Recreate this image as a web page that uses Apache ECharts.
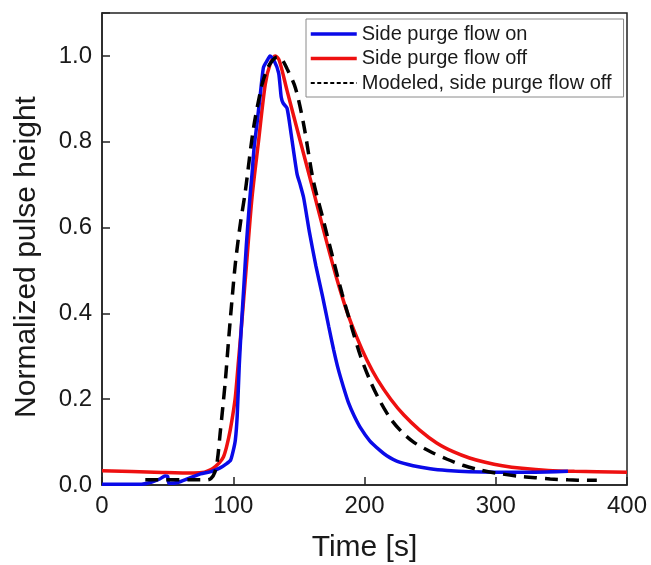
<!DOCTYPE html>
<html>
<head>
<meta charset="utf-8">
<script src="https://cdn.jsdelivr.net/npm/echarts@6/dist/echarts.min.js"></script>
<style>
html,body{margin:0;padding:0;background:#fff;}
#chart{width:651px;height:565px;}
</style>
</head>
<body>
<div id="chart"></div>
<script>
// ---- Data ----
const seriesNames = ['Side purge flow on', 'Side purge flow off', 'Modeled, side purge flow off'];
const xTicks = [0, 100, 200, 300, 400];
const yTicks = [0.0, 0.2, 0.4, 0.6, 0.8, 1.0];

const blueT = [0, 30, 38, 44, 48, 50, 51, 58, 65, 75, 83, 90, 95, 98, 100, 101.6, 103, 104.6, 106, 108, 110, 112.5, 114.3, 116, 118, 120.6, 123, 126, 128, 131, 134.6, 136.5, 138, 141, 144, 148.6, 151, 153.6, 158, 163, 168, 172.7, 176.5, 180, 184, 188, 192, 197, 204, 212, 217, 225, 237, 250, 263, 280, 300, 330, 355];
const blueV = [0.002, 0.002, 0.007, 0.014, 0.021, 0.02, 0.004, 0.006, 0.014, 0.026, 0.031, 0.040, 0.050, 0.058, 0.080, 0.105, 0.16, 0.28, 0.36, 0.46, 0.56, 0.663, 0.725, 0.79, 0.84, 0.91, 0.973, 0.99, 1.0, 0.99, 0.96, 0.905, 0.89, 0.878, 0.82, 0.725, 0.70, 0.67, 0.59, 0.51, 0.44, 0.37, 0.315, 0.27, 0.228, 0.19, 0.162, 0.133, 0.103, 0.08, 0.068, 0.055, 0.045, 0.038, 0.034, 0.031, 0.030, 0.030, 0.032];

const redT = [0, 40, 70, 78, 83, 86.3, 89.5, 92.6, 95, 97.7, 100, 101.6, 104, 106, 110, 114.3, 119.3, 124.4, 128, 132, 135, 141, 151, 161, 170, 178, 186, 194, 202, 210, 220, 230, 242, 255, 268, 280, 292, 305, 320, 340, 360, 400];
const redV = [0.033, 0.030, 0.028, 0.030, 0.036, 0.043, 0.052, 0.066, 0.09, 0.128, 0.17, 0.205, 0.29, 0.36, 0.51, 0.67, 0.802, 0.934, 0.98, 1.0, 0.99, 0.919, 0.802, 0.686, 0.58, 0.49, 0.41, 0.345, 0.29, 0.245, 0.20, 0.163, 0.128, 0.098, 0.077, 0.063, 0.053, 0.045, 0.039, 0.034, 0.032, 0.030];

const modelT = [33, 72, 80, 83, 86, 88, 90, 92, 94, 96.5, 99, 101.6, 105.4, 109, 115.5, 122, 126, 129.5, 133.3, 137, 141, 147.3, 153.6, 161, 168, 175, 183, 190.5, 197, 204, 211, 219.7, 228, 237.4, 250, 263, 275, 288, 300, 316, 330, 341.5, 355, 370, 377];
const modelV = [0.012, 0.012, 0.012, 0.015, 0.03, 0.06, 0.12, 0.18, 0.244, 0.34, 0.43, 0.516, 0.609, 0.68, 0.833, 0.934, 0.97, 0.988, 0.997, 0.992, 0.97, 0.926, 0.841, 0.709, 0.625, 0.54, 0.445, 0.365, 0.30, 0.245, 0.20, 0.155, 0.125, 0.10, 0.078, 0.06, 0.046, 0.035, 0.028, 0.021, 0.017, 0.014, 0.012, 0.011, 0.011];

const zip = (a, b) => a.map((t, i) => [t, b[i]]);

const FONT = '"Liberation Sans", Arial, sans-serif';
const TXT = '#1a1a1a';
const BLUE = '#0a0ae8', RED = '#ee1010', BLACK = '#000';

const chart = echarts.init(document.getElementById('chart'), null, {renderer: 'canvas'});
chart.setOption({
  animation: false,
  backgroundColor: '#fff',
  grid: {
    left: 102, right: 24, top: 13, bottom: 80,
    outerBoundsMode: 'none', containLabel: false,
    show: true, borderColor: '#222', borderWidth: 1.5, backgroundColor: 'transparent'
  },
  legend: {
    orient: 'vertical',
    left: 306, top: 19,
    padding: [5, 12, 4, 3],
    itemGap: 4.5,
    itemWidth: 46, itemHeight: 20,
    backgroundColor: '#fff',
    borderColor: '#8a8a8a', borderWidth: 1,
    itemStyle: {opacity: 0},
    textStyle: {fontFamily: FONT, fontSize: 20, color: TXT},
    data: [
      {name: seriesNames[0], lineStyle: {color: BLUE, width: 3.5, type: 'solid'}},
      {name: seriesNames[1], lineStyle: {color: RED, width: 3.5, type: 'solid'}},
      {name: seriesNames[2], lineStyle: {color: BLACK, width: 2, type: [4, 2.5]}}
    ]
  },
  xAxis: {
    type: 'value', min: xTicks[0], max: xTicks[xTicks.length - 1], interval: 100,
    name: 'Time [s]', nameLocation: 'middle', nameGap: 48,
    nameTextStyle: {fontFamily: FONT, fontSize: 30, color: TXT},
    axisLine: {lineStyle: {color: '#222', width: 1.5}},
    axisTick: {inside: true, length: 8, lineStyle: {color: '#222', width: 1.5}},
    axisLabel: {fontFamily: FONT, fontSize: 24, color: TXT, margin: 9},
    splitLine: {show: false}
  },
  yAxis: {
    type: 'value', min: 0, max: 1.1, interval: 0.2,
    name: 'Normalized pulse height', nameLocation: 'middle', nameGap: 60,
    nameTextStyle: {fontFamily: FONT, fontSize: 30, color: TXT, padding: [0, 16, 0, 0]},
    axisLine: {lineStyle: {color: '#222', width: 1.5}},
    axisTick: {inside: true, length: 8, lineStyle: {color: '#222', width: 1.5}},
    axisLabel: {
      fontFamily: FONT, fontSize: 24, color: TXT, margin: 10,
      formatter: v => (yTicks.some(t => Math.abs(t - v) < 1e-6) ? v.toFixed(1) : '')
    },
    splitLine: {show: false}
  },
  series: [
    {
      name: seriesNames[0], type: 'line', showSymbol: false, symbol: 'none',
      smooth: 0.2,
      data: zip(blueT, blueV), z: 3,
      lineStyle: {color: BLUE, width: 3.5}, itemStyle: {color: BLUE}
    },
    {
      name: seriesNames[1], type: 'line', showSymbol: false, symbol: 'none',
      smooth: 0.3,
      data: zip(redT, redV), z: 2,
      lineStyle: {color: RED, width: 3.5}, itemStyle: {color: RED}
    },
    {
      name: seriesNames[2], type: 'line', showSymbol: false, symbol: 'none',
      smooth: 0.3,
      data: zip(modelT, modelV), z: 4,
      lineStyle: {color: BLACK, width: 3.5, type: [13, 8]}, itemStyle: {color: BLACK}
    }
  ]
});
</script>
</body>
</html>
